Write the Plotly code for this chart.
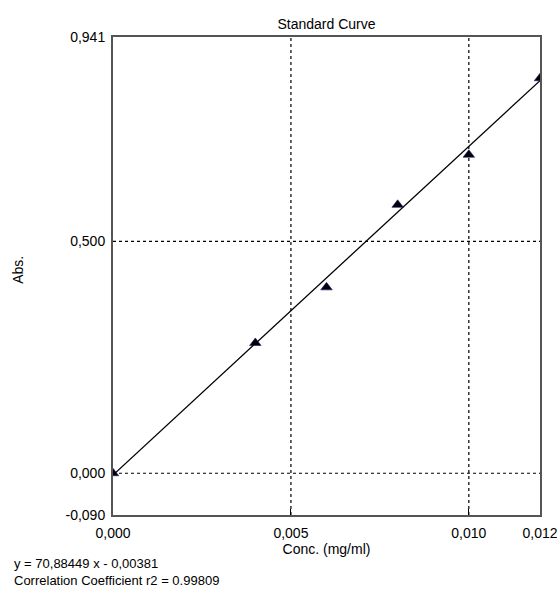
import plotly.graph_objects as go

conc = [0.000, 0.004, 0.006, 0.008, 0.010, 0.012]
absorb = [0.000, 0.281, 0.401, 0.579, 0.687, 0.852]
slope = 70.88449
intercept = -0.00381
x_ticks = [0.000, 0.005, 0.010, 0.012]
x_tick_text = ["0,000", "0,005", "0,010", "0,012"]
y_ticks = [-0.090, 0.000, 0.500, 0.941]
y_tick_text = ["-0,090", "0,000", "0,500", "0,941"]
x_grid = [0.005, 0.010]
y_grid = [0.000, 0.500]
x_range = [0.000, 0.012]
y_range = [-0.090, 0.941]

font = "Liberation Sans, Arial, sans-serif"
FS = 14

fig = go.Figure()
line_x = [x_range[0], x_range[1]]
line_y = [slope * v + intercept for v in line_x]
fig.add_trace(go.Scatter(x=line_x, y=line_y, mode="lines",
                         line=dict(color="black", width=1.3), hoverinfo="skip"))
fig.add_trace(go.Scatter(x=conc, y=absorb, mode="markers",
                         marker=dict(symbol="triangle-up", size=10, color="black",
                                     line=dict(color="#1a1a80", width=0.6)),
                         cliponaxis=True))

shapes = []
for gx in x_grid:
    shapes.append(dict(type="line", xref="x", yref="y", x0=gx, x1=gx,
                       y0=y_range[0], y1=y_range[1],
                       line=dict(color="black", width=1.2, dash="dot"), layer="below"))
for gy in y_grid:
    shapes.append(dict(type="line", xref="x", yref="y", x0=x_range[0], x1=x_range[1],
                       y0=gy, y1=gy,
                       line=dict(color="black", width=1.2, dash="dot"), layer="below"))

fig.update_layout(
    width=557, height=589,
    margin=dict(l=113, r=17, t=37, b=74, autoexpand=False),
    paper_bgcolor="white", plot_bgcolor="white",
    showlegend=False,
    font=dict(family=font, size=FS, color="black"),
    title=dict(text="Standard Curve", x=0.5, xanchor="center", xref="paper",
               y=1, yref="paper", yanchor="bottom", pad=dict(b=8),
               font=dict(size=FS, family=font)),
    shapes=shapes,
    annotations=[
        dict(text="Abs.", xref="paper", yref="paper", x=-0.2225, y=0.513,
             xanchor="center", yanchor="middle", textangle=-90, showarrow=False,
             font=dict(size=FS, family=font)),
        dict(text="y = 70,88449 x - 0,00381", xref="paper", yref="paper",
             x=-0.2365, y=-0.1025, xanchor="left", yanchor="middle", showarrow=False,
             font=dict(size=13, family=font)),
        dict(text="Correlation Coefficient r2 = 0.99809", xref="paper", yref="paper",
             x=-0.2365, y=-0.136, xanchor="left", yanchor="middle", showarrow=False,
             font=dict(size=13, family=font)),
    ],
)
fig.update_xaxes(range=x_range, tickvals=x_ticks, ticktext=x_tick_text,
                 showgrid=False, zeroline=False, automargin=False,
                 showline=True, linecolor="#555", linewidth=2, mirror=True,
                 ticks="inside", ticklen=6, tickcolor="black", ticklabelstandoff=4,
                 ticklabeloverflow="allow",
                 title=dict(text="Conc. (mg/ml)", standoff=0, font=dict(size=FS)),
                 tickfont=dict(size=FS))
fig.update_yaxes(range=y_range, tickvals=y_ticks, ticktext=y_tick_text,
                 showgrid=False, zeroline=False, automargin=False,
                 showline=True, linecolor="#555", linewidth=2, mirror=True,
                 ticks="", ticklabelstandoff=3,
                 tickfont=dict(size=FS))

fig.write_html("out.html", config={"displayModeBar": False},
               post_script="document.body.style.margin='0';")
